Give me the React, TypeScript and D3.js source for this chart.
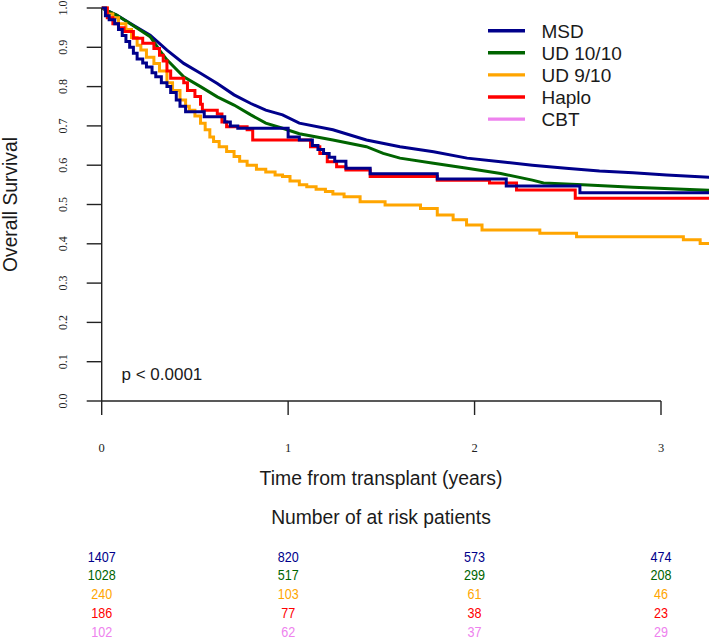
import React from "react";
import * as d3 from "d3";

type Pt = [number, number];

const seriesNames = ["MSD", "UD 10/10", "UD 9/10", "Haplo", "CBT"];
const legendColors = ["#00008B", "#006400", "#FFA500", "#FF0000", "#EE82EE"];
// the CBT curve is drawn in navy in the reference
const curveColors = ["#00008B", "#006400", "#FFA500", "#FF0000", "#00008B"];

const msd: Pt[] = [
  [0, 1], [0.08, 0.982], [0.17, 0.956], [0.26, 0.931], [0.35, 0.893], [0.44, 0.859],
  [0.53, 0.834], [0.62, 0.808], [0.71, 0.779], [0.8, 0.757], [0.88, 0.74], [0.97, 0.728],
  [1.06, 0.707], [1.24, 0.69], [1.42, 0.664], [1.6, 0.647], [1.78, 0.634], [1.96, 0.618],
  [2.14, 0.609], [2.31, 0.6], [2.49, 0.592], [2.67, 0.585], [2.85, 0.581], [3.03, 0.575],
  [3.3, 0.568],
];

const ud10: Pt[] = [
  [0, 1], [0.08, 0.982], [0.17, 0.955], [0.26, 0.927], [0.31, 0.893], [0.35, 0.868],
  [0.44, 0.825], [0.53, 0.8], [0.62, 0.774], [0.71, 0.753], [0.8, 0.728], [0.88, 0.707],
  [0.97, 0.694], [1.06, 0.68], [1.24, 0.664], [1.42, 0.647], [1.51, 0.63], [1.6, 0.618],
  [1.78, 0.605], [1.96, 0.592], [2.14, 0.579], [2.31, 0.562], [2.37, 0.555], [2.58, 0.55],
  [2.85, 0.544], [3.12, 0.539], [3.3, 0.535],
];

const ud9: Pt[] = [
  [0, 1], [0.03, 0.985], [0.06, 0.975], [0.09, 0.96], [0.13, 0.945], [0.16, 0.925],
  [0.19, 0.905], [0.21, 0.893], [0.24, 0.875], [0.28, 0.859], [0.31, 0.84], [0.35, 0.81],
  [0.38, 0.79], [0.42, 0.766], [0.45, 0.75], [0.47, 0.74], [0.5, 0.725], [0.53, 0.707],
  [0.555, 0.69], [0.58, 0.672], [0.6, 0.66], [0.63, 0.647], [0.67, 0.635], [0.71, 0.622],
  [0.74, 0.61], [0.78, 0.6], [0.83, 0.59], [0.88, 0.583], [0.93, 0.575], [0.97, 0.571],
  [1.01, 0.56], [1.06, 0.55], [1.1, 0.545], [1.15, 0.539], [1.2, 0.533], [1.24, 0.527],
  [1.3, 0.52], [1.386, 0.507], [1.52, 0.499], [1.71, 0.49], [1.8, 0.473], [1.885, 0.461],
  [1.957, 0.448], [2.04, 0.435], [2.35, 0.427], [2.547, 0.418], [3.12, 0.41], [3.21, 0.401],
  [3.3, 0.401],
];

const haplo: Pt[] = [
  [0, 1], [0.03, 0.975], [0.06, 0.96], [0.09, 0.95], [0.12, 0.94], [0.17, 0.923],
  [0.22, 0.91], [0.28, 0.897], [0.31, 0.88], [0.33, 0.865], [0.35, 0.84], [0.37, 0.821],
  [0.44, 0.81], [0.46, 0.79], [0.5, 0.775], [0.53, 0.755], [0.54, 0.74], [0.62, 0.73],
  [0.645, 0.71], [0.67, 0.698], [0.78, 0.69], [0.81, 0.664], [1.12, 0.647], [1.17, 0.63],
  [1.21, 0.609], [1.26, 0.596], [1.31, 0.588], [1.44, 0.571], [1.8, 0.562], [2.08, 0.555],
  [2.225, 0.537], [2.54, 0.516], [3.3, 0.516],
];

const cbt: Pt[] = [
  [0, 1], [0.02, 0.98], [0.04, 0.97], [0.07, 0.96], [0.09, 0.945], [0.11, 0.93],
  [0.13, 0.915], [0.15, 0.9], [0.17, 0.885], [0.19, 0.87], [0.22, 0.86], [0.24, 0.85],
  [0.27, 0.835], [0.29, 0.825], [0.32, 0.81], [0.35, 0.8], [0.37, 0.785], [0.4, 0.766],
  [0.42, 0.75], [0.45, 0.736], [0.55, 0.723], [0.66, 0.71], [0.69, 0.7], [0.73, 0.694],
  [1.0, 0.672], [1.06, 0.664], [1.13, 0.65], [1.16, 0.64], [1.19, 0.63], [1.22, 0.62],
  [1.25, 0.61], [1.31, 0.592], [1.44, 0.578], [1.8, 0.565], [2.17, 0.547], [2.565, 0.53],
  [3.3, 0.53],
];

const seriesData: Pt[][] = [msd, ud10, ud9, haplo, cbt];
const smoothSeries = [true, true, false, false, false];

const xTicks = [0, 1, 2, 3];
const yTicks = [0, 0.1, 0.2, 0.3, 0.4, 0.5, 0.6, 0.7, 0.8, 0.9, 1.0];

const atRisk: number[][] = [
  [1407, 820, 573, 474],
  [1028, 517, 299, 208],
  [240, 103, 61, 46],
  [186, 77, 38, 23],
  [102, 62, 37, 29],
];

const W = 709;
const H = 641;

export default function App() {
  const x = d3.scaleLinear().domain([0, 3]).range([101.7, 661]);
  const y = d3.scaleLinear().domain([0, 1]).range([401, 8]);
  const axisColor = "#222";

  const linePath = (pts: Pt[], smooth: boolean) =>
    d3
      .line<Pt>()
      .x((d) => x(d[0]))
      .y((d) => y(d[1]))
      .curve(smooth ? d3.curveLinear : d3.curveStepAfter)(pts) || "";

  const sans = "'Liberation Sans', Arial, sans-serif";
  const serif = "'Liberation Serif', 'Times New Roman', serif";

  return (
    <svg
      width={W}
      height={H}
      style={{ position: "absolute", left: 0, top: 0, background: "#fff" }}
    >
      <rect x={0} y={0} width={W} height={H} fill="#fff" />
      {/* curves */}
      <g fill="none" strokeWidth={3} strokeLinejoin="miter">
        {seriesData.map((pts, i) => (
          <path key={i} d={linePath(pts, smoothSeries[i])} stroke={curveColors[i]} />
        ))}
      </g>

      {/* y axis */}
      <g stroke={axisColor} strokeWidth={1.4}>
        <line x1={x(0)} x2={x(0)} y1={y(0)} y2={y(1)} />
        {yTicks.map((t) => (
          <line key={t} x1={x(0) - 15} x2={x(0)} y1={y(t)} y2={y(t)} />
        ))}
        {/* x axis */}
        <line x1={x(0)} x2={x(3)} y1={y(0)} y2={y(0)} />
        {xTicks.map((t) => (
          <line key={t} x1={x(t)} x2={x(t)} y1={y(0)} y2={y(0) + 14} />
        ))}
      </g>
      <g fontFamily={serif} fontSize={12} fill="#222" textAnchor="middle">
        {yTicks.map((t) => (
          <text key={t} transform={`translate(66.5,${y(t)}) rotate(-90)`}>
            {t.toFixed(1)}
          </text>
        ))}
        {xTicks.map((t) => (
          <text key={t} x={x(t)} y={451.5} fontSize={12.5}>
            {t}
          </text>
        ))}
      </g>

      {/* axis titles */}
      <text
        transform={`translate(17,204.5) rotate(-90)`}
        textAnchor="middle"
        fontFamily={sans}
        fontSize={19.3}
        fill="#1a1a1a"
      >
        Overall Survival
      </text>
      <text
        x={381}
        y={485}
        textAnchor="middle"
        fontFamily={sans}
        fontSize={19.4}
        fill="#1a1a1a"
      >
        Time from transplant (years)
      </text>

      {/* p-value */}
      <text x={121.5} y={380} fontFamily={sans} fontSize={17} fill="#1a1a1a">
        p &lt; 0.0001
      </text>

      {/* legend */}
      <g>
        {seriesNames.map((n, i) => (
          <g key={n} transform={`translate(0,${30.7 + i * 22.1})`}>
            <line x1={488} x2={525} y1={0} y2={0} stroke={legendColors[i]} strokeWidth={3.4} />
            <text x={541.5} y={6.8} fontFamily={sans} fontSize={19} fill="#1a1a1a">
              {n}
            </text>
          </g>
        ))}
      </g>

      {/* at risk table */}
      <text
        x={381}
        y={524}
        textAnchor="middle"
        fontFamily={sans}
        fontSize={19.3}
        fill="#1a1a1a"
      >
        Number of at risk patients
      </text>
      <g fontFamily={sans} fontSize={15} textAnchor="middle">
        {atRisk.map((row, i) =>
          row.map((v, j) => (
            <text
              key={`${i}-${j}`}
              transform={`translate(${x(xTicks[j])},${561.5 + i * 18.8}) scale(0.84,1)`}
              fill={legendColors[i]}
            >
              {v}
            </text>
          ))
        )}
      </g>
    </svg>
  );
}
